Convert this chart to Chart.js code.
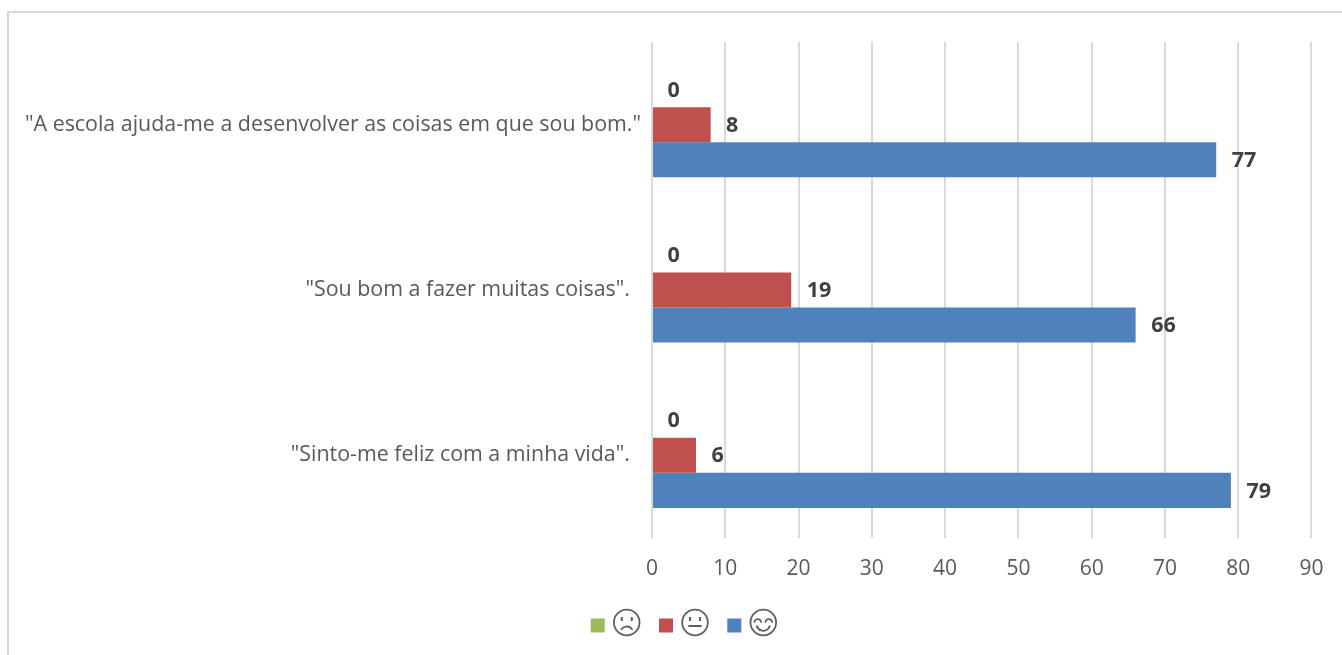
<!DOCTYPE html>
<html>
<head>
<meta charset="utf-8">
<title>Chart</title>
<script src="https://cdn.jsdelivr.net/npm/chart.js@4/dist/chart.umd.min.js"></script>
<style>
    html, body { margin: 0; padding: 0; background: #fff; overflow: hidden; }
    #frame { position: absolute; left: 7px; top: 11px; width: 1335px; height: 644px; border-top: 2px solid #d9d9d9; border-left: 2px solid #d9d9d9; box-sizing: border-box; }
    canvas { position: absolute; left: 0; top: 0; }
</style>
</head>
<body>
<canvas id="chart" width="1342" height="655"></canvas>
<div id="frame"></div>
<script>
// Chart data
const categories = [
    '"A escola ajuda-me a desenvolver as coisas em que sou bom."',
    '"Sou bom a fazer muitas coisas".  ',
    '"Sinto-me feliz com a minha vida".  '
];
const sadValues = [0, 0, 0];
const neutralValues = [8, 19, 6];
const happyValues = [77, 66, 79];
const axisTicks = [0, 10, 20, 30, 40, 50, 60, 70, 80, 90];

const fontFamily = '"Open Sans", sans-serif';
const faceColor = '#5f5f5f';

// Legend entries are pictures of faces in the original, so draw them next to the boxes
function drawFace(ctx, cx, cy, mood) {
    ctx.save();
    ctx.strokeStyle = faceColor;
    ctx.fillStyle = faceColor;
    ctx.lineWidth = 1.8;
    ctx.lineCap = 'round';
    ctx.beginPath();
    ctx.arc(cx, cy, 12.8, 0, Math.PI * 2);
    ctx.stroke();

    if (mood === 'happy') {
        // closed, curved eyes and a wide smile
        ctx.beginPath();
        ctx.arc(cx - 5.5, cy, 3.4, Math.PI * 1.05, Math.PI * 1.95);
        ctx.stroke();
        ctx.beginPath();
        ctx.arc(cx + 5.5, cy, 3.4, Math.PI * 1.05, Math.PI * 1.95);
        ctx.stroke();
        ctx.beginPath();
        ctx.arc(cx, cy + 1.5, 6.8, Math.PI * 0.1, Math.PI * 0.9);
        ctx.stroke();
    } else {
        ctx.fillRect(cx - 6, cy - 5.5, 2, 4);
        ctx.fillRect(cx + 4, cy - 5.5, 2, 4);
        ctx.beginPath();
        if (mood === 'sad') {
            ctx.arc(cx, cy + 10.5, 6.5, Math.PI * 1.2, Math.PI * 1.8);
        } else {
            ctx.moveTo(cx - 6, cy + 3.5);
            ctx.lineTo(cx + 6, cy + 3.5);
        }
        ctx.stroke();
    }
    ctx.restore();
}

const legendFaces = {
    id: 'legendFaces',
    // the legend sits a bit right of the page centre in the original
    afterUpdate(chart) {
        const legend = chart.legend;
        legend.left += 13.4;
        legend.right += 13.4;
        legend.top += 2;
        legend.bottom += 2;
        legend.legendHitBoxes.forEach(box => {
            box.left += 13.4;
            box.top += 2;
        });
    },
    afterDraw(chart) {
        const moods = ['sad', 'neutral', 'happy'];
        chart.legend.legendHitBoxes.forEach((box, i) => {
            drawFace(chart.ctx, box.left + 36, box.top + 7, moods[i]);
        });
    }
};

// Value labels to the right of each bar
const valueLabels = {
    id: 'valueLabels',
    afterDatasetsDraw(chart) {
        const ctx = chart.ctx;
        ctx.save();
        ctx.font = 'bold 21.5px ' + fontFamily;
        ctx.fillStyle = '#404040';
        ctx.textAlign = 'left';
        ctx.textBaseline = 'middle';
        chart.data.datasets.forEach((dataset, i) => {
            chart.getDatasetMeta(i).data.forEach((bar, j) => {
                ctx.fillText(dataset.data[j], bar.x + 15.5, bar.y + 1);
            });
        });
        ctx.restore();
    }
};

new Chart(document.getElementById('chart').getContext('2d'), {
    type: 'bar',
    data: {
        labels: categories,
        datasets: [
            { label: 'Triste', data: sadValues, backgroundColor: '#9bbb59' },
            { label: 'Neutro', data: neutralValues, backgroundColor: '#c0504d' },
            { label: 'Feliz', data: happyValues, backgroundColor: '#4f81bd' }
        ]
    },
    options: {
        indexAxis: 'y',
        responsive: false,
        animation: false,
        events: [],
        datasets: {
            bar: { categoryPercentage: 0.636, barPercentage: 1 }
        },
        layout: {
            padding: { left: 20, right: 26, top: 42, bottom: 11.5 }
        },
        scales: {
            x: {
                min: 0,
                max: 90,
                afterBuildTicks(axis) {
                    axis.ticks = axisTicks.map(value => ({ value }));
                },
                afterFit(axis) {
                    axis.height = 52;
                },
                grid: { color: '#d9d9d9', lineWidth: 2, drawTicks: false },
                border: { display: false },
                ticks: {
                    color: '#595959',
                    padding: 18.5,
                    maxRotation: 0,
                    font: { family: fontFamily, size: 21 }
                }
            },
            y: {
                afterFit(axis) {
                    axis.width = 632;
                },
                grid: { display: false, drawTicks: false },
                border: { display: false },
                ticks: {
                    color: '#595959',
                    padding: 11,
                    font: { family: fontFamily, size: 21.4 }
                }
            }
        },
        plugins: {
            title: { display: false },
            tooltip: { enabled: false },
            legend: {
                position: 'bottom',
                labels: {
                    boxWidth: 14,
                    boxHeight: 14,
                    padding: 23.5,
                    font: { family: fontFamily, size: 20 },
                    generateLabels(chart) {
                        return Chart.defaults.plugins.legend.labels.generateLabels(chart).map(item => {
                            // blank text only reserves room for the face picture
                            item.text = '    ';
                            item.lineWidth = 0;
                            return item;
                        });
                    }
                }
            }
        }
    },
    plugins: [valueLabels, legendFaces]
});
</script>
</body>
</html>
